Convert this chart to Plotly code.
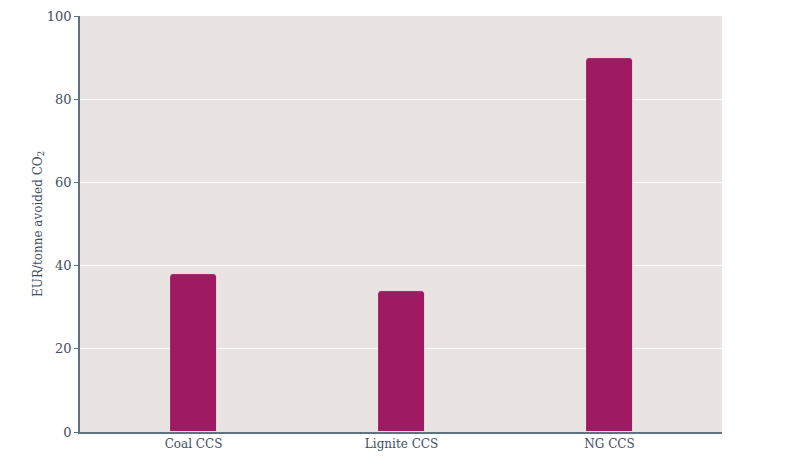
import plotly.graph_objects as go

# Cost of CO2 avoided by CCS technology
technologies = ["Coal CCS", "Lignite CCS", "NG CCS"]
cost_eur_per_tonne = [38, 34, 90]

y_ticks = [0, 20, 40, 60, 80, 100]

bar_color = "#9E1A62"
text_color = "#3D4F63"
axis_color = "#5E7282"
font_family = "DejaVu Serif"

fig = go.Figure(go.Bar(
    x=technologies,
    y=cost_eur_per_tonne,
    width=0.226,
    marker=dict(color=bar_color, cornerradius=4,
                line=dict(color="white", width=0.8)),
    hovertemplate="%{x}: %{y}<extra></extra>",
))

fig.update_layout(
    width=807,
    height=468,
    margin=dict(l=80, r=85, t=16, b=36, autoexpand=False),
    paper_bgcolor="white",
    plot_bgcolor="#E9E4E2",
    font=dict(family=font_family, size=12, color=text_color),
    showlegend=False,
    bargap=0,
)

fig.update_xaxes(
    range=[-0.546, 2.541],
    showgrid=False,
    showline=True,
    linecolor=axis_color,
    linewidth=1.5,
    ticks="",
    tickfont=dict(size=12, color=text_color),
)

fig.update_yaxes(
    range=[0, 100],
    tickvals=y_ticks,
    showgrid=True,
    gridcolor="white",
    gridwidth=1,
    zeroline=False,
    showline=True,
    linecolor=axis_color,
    linewidth=1.5,
    ticks="outside",
    ticklen=4,
    tickcolor=axis_color,
    tickfont=dict(size=13, color=text_color),
    title=dict(text="EUR/tonne avoided CO<sub>2</sub>",
               font=dict(size=12, color=text_color), standoff=2),
)

# drop the browser's default body margin so the figure sits at the page corner
fig.write_html("out.html", config={"displayModeBar": False},
               post_script="document.body.style.margin='0';")
